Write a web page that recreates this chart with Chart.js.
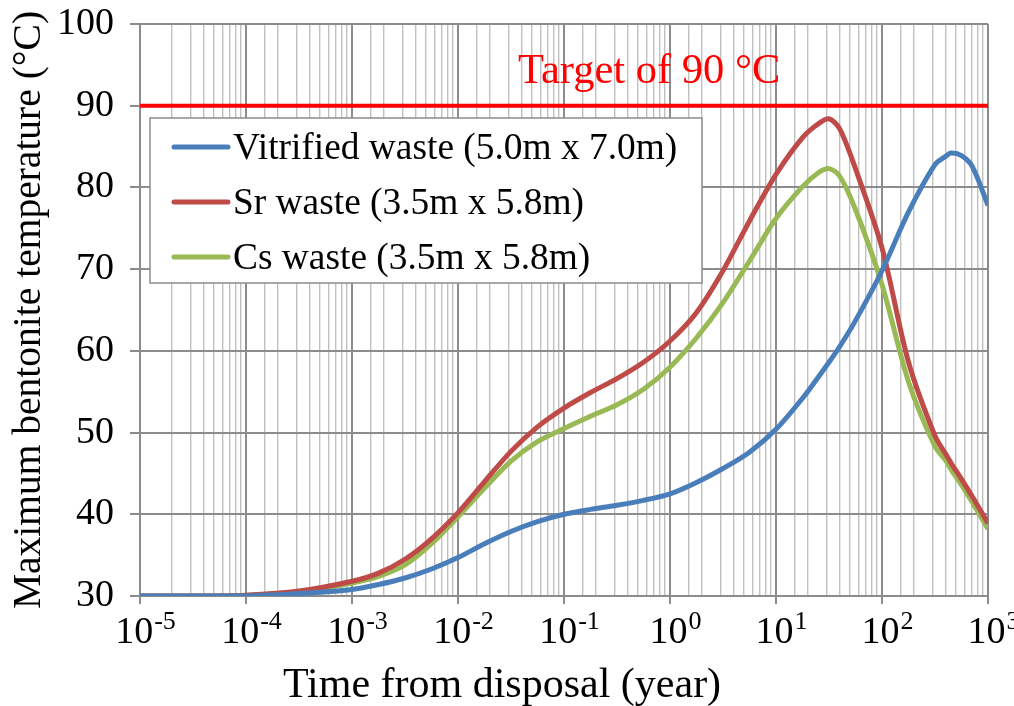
<!DOCTYPE html>
<html lang="en">
<head>
<meta charset="UTF-8">
<title>Maximum bentonite temperature</title>
<style>
  body { margin: 0; background: #fff; }
  #wrap { width: 1014px; height: 706px; }
</style>
</head>
<body>
<div id="wrap"><canvas id="tempChart" width="1014" height="706"></canvas></div>

<script src="https://cdn.jsdelivr.net/npm/chart.js"></script>
<script>
// time (year), log-spaced samples
const timeYears = [1e-5, 3.16e-5, 1e-4, 3.16e-4, 1e-3, 1.78e-3, 3.16e-3, 5.62e-3, 1e-2, 1.78e-2, 3.16e-2, 5.62e-2,
                   0.1, 0.178, 0.316, 0.562, 1, 1.78, 3.16, 5.62, 10, 17.8, 25.1, 31.6, 39.8, 56.2,
                   100, 178, 316, 398, 447, 562, 708, 1000];

const vitrified = [30, 30, 30.0, 30.3, 30.8, 31.4, 32.2, 33.3, 34.7, 36.4, 37.9, 39.1,
                   40.0, 40.6, 41.1, 41.7, 42.5, 43.9, 45.6, 47.6, 50.4, 54.2, 56.8, 58.6, 60.5, 63.7,
                   69.8, 77.0, 82.8, 83.8, 84.2, 83.9, 82.6, 77.8];

const srWaste   = [30, 30, 30.1, 30.6, 31.8, 32.8, 34.5, 37.0, 40.2, 44.0, 47.7, 50.7,
                   53.0, 54.9, 56.6, 58.6, 61.2, 64.7, 69.8, 75.9, 81.6, 86.1, 87.8, 88.4, 87.2, 82.3,
                   72.6, 58.6, 49.6, 47.4, 46.3, 44.3, 42.2, 38.9];

const csWaste   = [30, 30, 30.1, 30.5, 31.6, 32.4, 33.8, 36.4, 39.7, 43.2, 46.5, 48.9,
                   50.5, 52.0, 53.4, 55.3, 58.0, 61.6, 65.9, 71.0, 76.2, 80.1, 81.8, 82.3, 81.4, 77.3,
                   68.1, 56.2, 48.3, 46.6, 45.5, 43.6, 41.5, 38.2];

const targetTime = [1e-5, 1000];
const targetTemp = [90, 90];

const seriesNames = ['Vitrified waste (5.0m x 7.0m)', 'Sr waste (3.5m x 5.8m)', 'Cs waste (3.5m x 5.8m)'];
const seriesColors = ['#4a7ebb', '#be4b48', '#98b954'];
const xPowers = [-5, -4, -3, -2, -1, 0, 1, 2, 3];
const yTicks = [30, 40, 50, 60, 70, 80, 90, 100];

const FONT = '"Liberation Serif", "Times New Roman", serif';

function toPoints(xs, ys) {
    return xs.map((x, i) => ({ x: x, y: ys[i] }));
}

function isDecade(v) {
    const l = Math.log10(v);
    return Math.abs(l - Math.round(l)) < 1e-6;
}

// legend, target label, axis titles and power-of-ten labels
const decorations = {
    id: 'decorations',
    afterDatasetsDraw(chart) {
        const ctx = chart.ctx;
        const xs = chart.scales.x;
        const area = chart.chartArea;
        ctx.save();

        // target label
        ctx.fillStyle = '#ff0000';
        ctx.font = '42.5px ' + FONT;
        ctx.textBaseline = 'alphabetic';
        ctx.textAlign = 'left';
        ctx.fillText('Target of 90 \u00b0C', 518, 83);

        // legend box
        ctx.fillStyle = '#ffffff';
        ctx.fillRect(150, 118, 552, 165);
        ctx.strokeStyle = '#8c8c8c';
        ctx.lineWidth = 1.5;
        ctx.strokeRect(150, 118, 552, 165);
        ctx.font = '37.4px ' + FONT;
        ctx.textBaseline = 'middle';
        seriesNames.forEach((name, i) => {
            const y = 147 + i * 55;
            ctx.strokeStyle = seriesColors[i];
            ctx.lineWidth = 5;
            ctx.lineCap = 'round';
            ctx.beginPath();
            ctx.moveTo(174, y);
            ctx.lineTo(228, y);
            ctx.stroke();
            ctx.fillStyle = '#000';
            ctx.fillText(name, 233, y + 2);
        });

        // x tick labels 10^n
        ctx.fillStyle = '#000';
        ctx.textBaseline = 'alphabetic';
        xPowers.forEach(p => {
            const x = xs.getPixelForValue(Math.pow(10, p));
            const base = '10';
            const sup = String(p);
            ctx.font = '38px ' + FONT;
            const w1 = ctx.measureText(base).width;
            ctx.font = '26px ' + FONT;
            const w2 = ctx.measureText(sup).width;
            const start = x - (w1 + w2) / 2 + 5;
            ctx.font = '38px ' + FONT;
            ctx.fillText(base, start, 643);
            ctx.font = '26px ' + FONT;
            ctx.fillText(sup, start + w1 + 1, 629);
        });

        // axis titles
        ctx.font = '42px ' + FONT;
        ctx.textAlign = 'center';
        ctx.fillText('Time from disposal (year)', 502, 697);

        ctx.font = '39.5px ' + FONT;
        ctx.translate(30, (area.top + area.bottom) / 2);
        ctx.rotate(-Math.PI / 2);
        ctx.textBaseline = 'middle';
        ctx.fillText('Maximum bentonite temperature (\u00b0C)', 0, 0);
        ctx.restore();
    }
};

const lineStyle = {
    borderWidth: 5,
    pointRadius: 0,
    fill: false,
    tension: 0.3
};

const tempChart = new Chart(document.getElementById('tempChart'), {
    type: 'line',
    data: {
        datasets: [
            Object.assign({ label: seriesNames[0], data: toPoints(timeYears, vitrified), borderColor: seriesColors[0] }, lineStyle),
            Object.assign({ label: seriesNames[1], data: toPoints(timeYears, srWaste), borderColor: seriesColors[1] }, lineStyle),
            Object.assign({ label: seriesNames[2], data: toPoints(timeYears, csWaste), borderColor: seriesColors[2] }, lineStyle),
            { label: 'Target', data: toPoints(targetTime, targetTemp), borderColor: '#ff0000', borderWidth: 4, pointRadius: 0 }
        ]
    },
    options: {
        responsive: false,
        animation: false,
        layout: { padding: { top: 24, right: 26, left: 0, bottom: 0 } },
        plugins: {
            legend: { display: false },
            tooltip: { enabled: false }
        },
        scales: {
            x: {
                type: 'logarithmic',
                min: 1e-5,
                max: 1000,
                afterFit: s => { s.height = 110; s.paddingLeft = 0; s.paddingRight = 0; },
                ticks: {
                    autoSkip: false,
                    callback: () => '',
                    maxRotation: 0
                },
                grid: {
                    color: c => (c.tick && isDecade(c.tick.value)) ? '#8c8c8c' : '#c0c0c0',
                    lineWidth: c => (c.tick && isDecade(c.tick.value)) ? 2 : 1.4,
                    tickColor: c => (c.tick && isDecade(c.tick.value)) ? '#8c8c8c' : 'rgba(0,0,0,0)',
                    tickLength: 8
                },
                border: { color: '#8c8c8c', width: 2 }
            },
            y: {
                min: 30,
                max: 100,
                afterFit: s => { s.width = 140; s.paddingTop = 0; s.paddingBottom = 0; },
                afterBuildTicks: s => { s.ticks = yTicks.map(v => ({ value: v })); },
                ticks: {
                    color: '#000',
                    font: { family: FONT, size: 38 },
                    padding: 16
                },
                grid: {
                    color: '#8c8c8c',
                    lineWidth: 2,
                    tickLength: 10
                },
                border: { color: '#8c8c8c', width: 2 }
            }
        }
    },
    plugins: [decorations]
});
</script>
</body>
</html>
